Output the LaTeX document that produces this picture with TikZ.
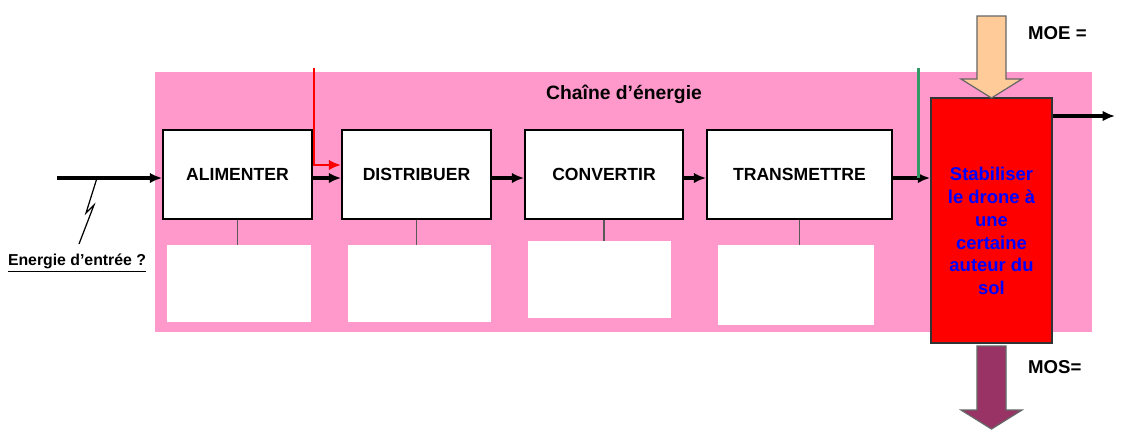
\documentclass[tikz,border=0pt]{standalone}
\usepackage{fontspec}
\setmainfont{Liberation Sans}
\usepackage[rgb]{xcolor}
\usepackage{tikz}
\usetikzlibrary{positioning,arrows.meta}

\definecolor{rose}{HTML}{FF99CC}
\definecolor{peche}{HTML}{FFCC99}
\definecolor{prune}{HTML}{993366}
\definecolor{vertfil}{HTML}{339966}

\tikzset{
  fonction/.style={draw=black, line width=1pt, fill=white, minimum height=1.78cm,
    font=\fontsize{10}{12}\selectfont\bfseries},
  cadre/.style={fill=white, minimum height=1.54cm},
  fleche/.style={line width=2pt, -{Latex[length=7pt,width=6pt]}},
  etiquette/.style={font=\fontsize{10.6}{12}\selectfont\bfseries}
}

\begin{document}
\begin{tikzpicture}[x=0.2mm, y=-0.2mm]
    \useasboundingbox (0,0) rectangle (1137,445);
    % fond rose de la chaine
    \fill[rose] (155,72) rectangle (1092,332);
    \node[etiquette, font=\fontsize{11}{13}\selectfont\bfseries] (titre) at (624,94) {Chaîne d’énergie};

    \node[fonction, minimum width=2.98cm] (alim) at (237.5,174.5) {ALIMENTER};
    \node[fonction, minimum width=2.98cm] (distr) at (416.5,174.5) {DISTRIBUER};
    \node[fonction, minimum width=3.16cm] (conv) at (604,174.5) {CONVERTIR};
    \node[fonction, minimum width=3.7cm] (trans) at (799.5,174.5) {TRANSMETTRE};

    \node[cadre, minimum width=2.88cm] (c1) at (239,283.5) {};
    \node[cadre, minimum width=2.86cm] (c2) at (419.5,283.5) {};
    \node[cadre, minimum width=2.86cm] (c3) at (599.5,279.5) {};
    \node[cadre, minimum width=3.12cm, minimum height=1.6cm] (c4) at (796,285) {};
    \foreach \f/\c in {alim/c1,distr/c2,conv/c3,trans/c4}
      \draw[gray!70!black, line width=0.6pt] (\f.south) -- (\f.south |- \c.north);

    \node[draw=black!80, line width=1pt, fill=red, minimum width=2.42cm, minimum height=4.9cm]
      (stab) at (991.5,220.5) {};
    \node[text=blue, align=center, font=\fontsize{10.5}{13}\selectfont\bfseries]
      (stabtxt) at ([yshift=-0.21cm]stab.center) {Stabiliser\\le drone à\\une\\certaine\\auteur du\\sol};

    % energie d'entree
    \coordinate (entree) at (57,178);
    \draw[fleche] (entree) -- (alim.west |- entree);
    \node[font=\fontsize{9}{11}\selectfont\bfseries] (lab) at (77,263) {\underline{Energie d’entrée ?}};
    \draw[line width=0.7pt] (97,178) -- (86,213) -- (94,205) -- (79,244);

    \foreach \a/\b in {alim/distr,distr/conv,conv/trans}
      \draw[fleche] ([yshift=-0.07cm]\a.east) -- ([yshift=-0.07cm]\b.west);
    \draw[fleche] ([yshift=-0.07cm]trans.east) -- ([yshift=-0.07cm]trans.east -| stab.west);

    % ordres
    \coordinate (rouge) at (314,68);
    \draw[fleche, red, line width=1.7pt] (rouge) |- ([yshift=0.19cm]distr.west);
    \coordinate (vert) at (918,68);
    \draw[vertfil, line width=1.7pt] (vert) -- ([yshift=-0.07cm]vert |- trans.east);

    \coordinate (sortie) at (1115,116);
    \draw[fleche] (stab.east |- sortie) -- (sortie);

    % matiere d'oeuvre
    \filldraw[fill=peche, draw=black!60, line width=0.7pt]
      (977,16) -- (1006,16) -- (1006,79) -- (1022,79) -- (991.5,98) -- (961,79) -- (977,79) -- cycle;
    \filldraw[fill=prune, draw=black!60, line width=0.7pt]
      (977,346) -- (1006,346) -- (1006,410) -- (1022,410) -- (991.5,429) -- (961,410) -- (977,410) -- cycle;
    \node[etiquette, anchor=west] (moe) at (1022,33) {MOE =};
    \node[etiquette, anchor=west] (mos) at (1022,367) {MOS=};
\end{tikzpicture}
\end{document}
